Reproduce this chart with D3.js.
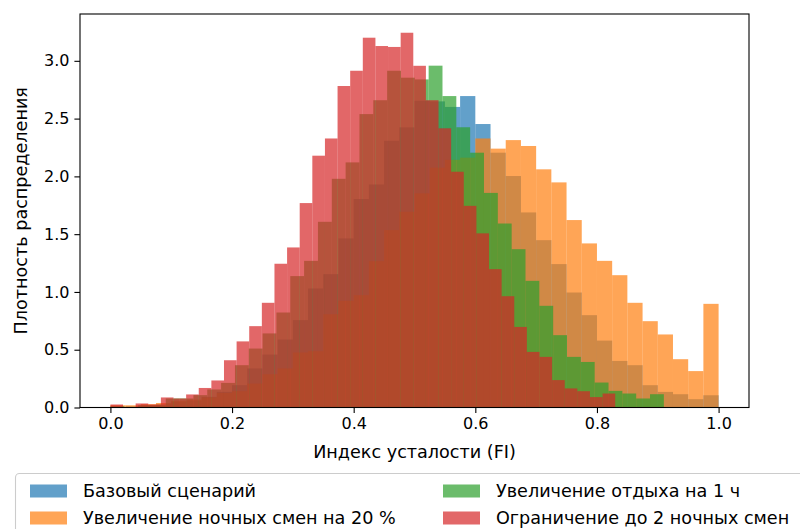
<!DOCTYPE html>
<html><head><meta charset="utf-8">
<script src="https://cdn.jsdelivr.net/npm/d3@7"></script>
<style>
body{margin:0;background:#fff}
svg{display:block}
text{font-family:"DejaVu Sans",sans-serif;fill:#000}
</style>
</head><body>
<svg id="chart" width="800" height="529"></svg>
<script>
// ---------- data ----------
const seriesNames = ["Базовый сценарий", "Увеличение ночных смен на 20 %", "Увеличение отдыха на 1 ч", "Ограничение до 2 ночных смен"];
const seriesColors = ["#1f77b4", "#ff7f0e", "#2ca02c", "#d62728"];
// bin ranges [min, max] of each series (40 bins each)
const baseRange = [0.0, 1.0];
const nightRange = [0.0, 1.0];
const restRange = [0.0, 0.91];
const limitRange = [0.0, 0.83];
// density values per bin
const baseDensity = [0.005,0.01,0.019,0.029,0.049,0.058,0.092,0.135,0.193,0.338,
  0.458,0.588,0.756,1.03,1.154,1.463,1.804,1.93,2.308,2.424,
  2.654,2.649,2.601,2.695,2.453,2.205,2.003,1.688,1.448,1.241,
  0.995,0.799,0.579,0.403,0.366,0.193,0.135,0.115,0.072,0.106];
const nightDensity = [0.019,0.019,0.029,0.039,0.058,0.068,0.088,0.127,0.141,0.207,
  0.288,0.338,0.476,0.487,0.807,0.923,0.972,1.266,1.535,1.694,
  1.853,2.075,2.143,2.162,2.328,2.24,2.314,2.263,2.061,1.948,
  1.622,1.42,1.269,1.145,0.906,0.747,0.632,0.418,0.315,0.897];
const restDensity = [0.01,0,0.019,0.019,0.078,0.078,0.107,0.156,0.213,0.366,
  0.51,0.641,0.822,1.137,1.269,1.607,1.979,2.121,2.539,2.659,
  2.914,2.854,2.839,2.958,2.695,2.425,2.205,1.857,1.592,1.37,
  1.096,0.88,0.626,0.438,0.394,0.216,0.144,0.121,0.078,0.115];
const limitDensity = [0.026,0,0.035,0.026,0.087,0.078,0.113,0.169,0.234,0.409,
  0.572,0.704,0.906,1.244,1.385,1.769,2.179,2.328,2.782,2.914,
  3.2,3.128,3.12,3.243,2.957,2.659,2.416,2.04,1.745,1.507,
  1.197,0.963,0.697,0.481,0.438,0.237,0.165,0.141,0.09,0.121];
const xTicks = [0.0, 0.2, 0.4, 0.6, 0.8, 1.0];
const yTicks = [0.0, 0.5, 1.0, 1.5, 2.0, 2.5, 3.0];
const xLabel = "Индекс усталости (FI)";
const yLabel = "Плотность распределения";

const seriesList = [
  {name: seriesNames[0], color: seriesColors[0], range: baseRange, values: baseDensity},
  {name: seriesNames[1], color: seriesColors[1], range: nightRange, values: nightDensity},
  {name: seriesNames[2], color: seriesColors[2], range: restRange, values: restDensity},
  {name: seriesNames[3], color: seriesColors[3], range: limitRange, values: limitDensity}
];

// ---------- layout ----------
const L = 80, R = 749, T = 14, B = 407.5;
const FS_TICK = 16, FS_LABEL = 17.6;
const svg = d3.select("#chart");

const x = d3.scaleLinear().domain([-0.05, 1.05]).range([L, R]);
const yMax = d3.max(seriesList, s => d3.max(s.values)) * 1.05;
const y = d3.scaleLinear().domain([0, yMax]).range([B, T]);

// bars
seriesList.forEach(s => {
  const n = s.values.length;
  const w = (s.range[1] - s.range[0]) / n;
  const bins = s.values.map((v, i) => ({x0: s.range[0] + i * w, x1: s.range[0] + (i + 1) * w, v}));
  svg.append("g").selectAll("rect").data(bins).join("rect")
    .attr("x", d => x(d.x0))
    .attr("width", d => x(d.x1) - x(d.x0))
    .attr("y", d => y(d.v))
    .attr("height", d => y(0) - y(d.v))
    .attr("fill", s.color)
    .attr("fill-opacity", 0.7);
});

// axes
const xAxis = d3.axisBottom(x).tickValues(xTicks).tickFormat(d3.format(".1f")).tickSize(5.6).tickPadding(5);
const yAxis = d3.axisLeft(y).tickValues(yTicks).tickFormat(d3.format(".1f")).tickSize(5.6).tickPadding(5);
const gx = svg.append("g").attr("transform", `translate(0,${B})`).call(xAxis);
const gy = svg.append("g").attr("transform", `translate(${L},0)`).call(yAxis);
[gx, gy].forEach(g => {
  g.select(".domain").remove();
  g.selectAll(".tick line").attr("stroke", "#000").attr("stroke-width", 1.1);
  g.selectAll(".tick text").attr("font-size", FS_TICK).attr("font-family", "DejaVu Sans").attr("fill", "#000");
});

// spines
svg.append("rect").attr("x", L).attr("y", T).attr("width", R - L).attr("height", B - T)
  .attr("fill", "none").attr("stroke", "#000").attr("stroke-width", 1.1);

// axis labels
svg.append("text").attr("x", (L + R) / 2).attr("y", 458).attr("text-anchor", "middle")
  .attr("font-size", FS_LABEL).text(xLabel);
svg.append("text").attr("transform", `translate(27,${(T + B) / 2}) rotate(-90)`)
  .attr("text-anchor", "middle").attr("font-size", FS_LABEL).text(yLabel);

// legend
const leg = svg.append("g");
leg.append("rect").attr("x", 15.5).attr("y", 473.5).attr("width", 800).attr("height", 80)
  .attr("rx", 4).attr("fill", "#fff").attr("fill-opacity", 0.8).attr("stroke", "#cccccc").attr("stroke-width", 1.1);
const colX = [30, 443];
const rowY = [491, 518];
// column-major order: col0 = items 0,1 ; col1 = items 2,3
seriesList.forEach((s, i) => {
  const c = Math.floor(i / 2), r = i % 2;
  const g = leg.append("g").attr("transform", `translate(${colX[c]},${rowY[r]})`);
  g.append("rect").attr("x", 0).attr("y", -6.5).attr("width", 37).attr("height", 13)
    .attr("fill", s.color).attr("fill-opacity", 0.7);
  g.append("text").attr("x", 53).attr("y", 0).attr("dy", "0.35em").attr("font-size", FS_LABEL).text(s.name);
});
</script>
</body></html>
